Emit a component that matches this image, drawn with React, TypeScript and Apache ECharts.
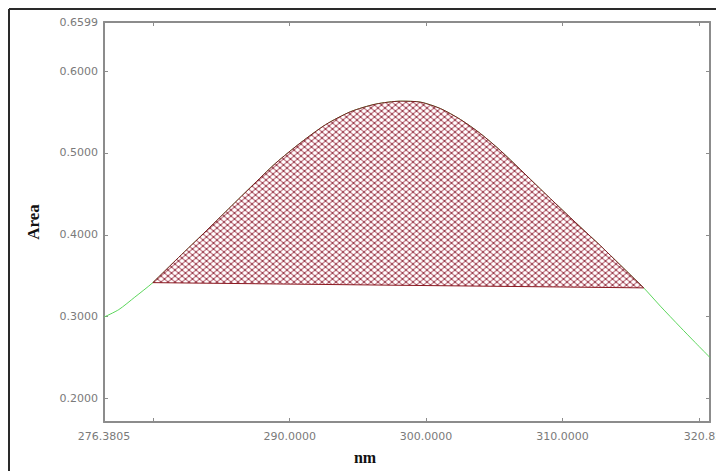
import React, { useEffect, useRef } from "react";
import * as echarts from "echarts";

// Spectrum curve (nm, Area)
const curveX = [276.3805, 277.47, 278.64, 279.96, 281.65, 283.48, 285.31, 287.14, 288.97, 290.81, 292.64, 294.47, 296.3, 298.13, 299.6, 301.06, 302.53, 303.99, 305.46, 306.92, 308.39, 309.85, 311.32, 312.78, 314.25, 315.96, 317.18, 318.64, 319.74, 320.8205];
const curveY = [0.2995, 0.3087, 0.3239, 0.3416, 0.3691, 0.3984, 0.4283, 0.4582, 0.4875, 0.5126, 0.5346, 0.5504, 0.5596, 0.5632, 0.562, 0.5541, 0.5407, 0.5236, 0.5028, 0.4796, 0.4558, 0.4326, 0.4094, 0.3868, 0.363, 0.3352, 0.3129, 0.2873, 0.2684, 0.2501];

// Integration baseline (start / end of the hatched peak)
const baselineX = [279.96, 315.96];
const baselineY = [0.3416, 0.3352];

// Axes
const xMin = 276.3805;
const xMax = 320.8205;
const yMin = 0.1714;
const yMax = 0.6599;
const xTicks = [280, 290, 300, 310, 320];
const xLabels = [276.3805, 290, 300, 310, 320.8205];
const yTicks = [0.2, 0.3, 0.4, 0.5, 0.6];
const yLabels = [0.2, 0.3, 0.4, 0.5, 0.6, 0.6599];

function makePattern() {
  const w = 7;
  const h = 6;
  const c = document.createElement("canvas");
  c.width = w;
  c.height = h;
  const ctx = c.getContext("2d")!;
  ctx.fillStyle = "#ffffff";
  ctx.fillRect(0, 0, w, h);
  ctx.strokeStyle = "#cf8f9a";
  ctx.lineWidth = 1.4;
  ctx.beginPath();
  ctx.moveTo(0, 0);
  ctx.lineTo(w, h);
  ctx.moveTo(0, h);
  ctx.lineTo(w, 0);
  ctx.stroke();
  ctx.fillStyle = "#8a3242";
  ctx.fillRect(w / 2 - 0.8, h / 2 - 0.8, 1.6, 1.6);
  ctx.fillRect(0, 0, 0.8, 0.8);
  ctx.fillRect(w - 0.8, 0, 0.8, 0.8);
  ctx.fillRect(0, h - 0.8, 0.8, 0.8);
  ctx.fillRect(w - 0.8, h - 0.8, 0.8, 0.8);
  return { image: c, repeat: "repeat", imageWidth: w, imageHeight: h } as any;
}

export default function App() {
  const ref = useRef<HTMLDivElement>(null);

  useEffect(() => {
    if (!ref.current) return;
    const chart = echarts.init(ref.current, null, { renderer: "svg" });
    const pattern = makePattern();

    const curve = curveX.map((x, i) => [x, curveY[i]]);
    const hatch = curve.filter((p) => p[0] >= baselineX[0] && p[0] <= baselineX[1]);

    const labelStyle = {
      color: "#7a7a7a",
      fontFamily: "DejaVu Sans",
      fontSize: 11,
    };
    const axisLine = { show: true, lineStyle: { color: "#8c8c8c", width: 2 } };
    const tickStyle = { color: "#8c8c8c", width: 1 };

    chart.setOption({
      animation: false,
      backgroundColor: "#ffffff",
      grid: { left: 104, top: 22, right: 6, bottom: 49, containLabel: false, outerBoundsMode: "none" },
      graphic: [
        { type: "line", shape: { x1: 9, y1: 9, x2: 9, y2: 471 }, style: { stroke: "#2a2a2a", lineWidth: 2 } },
        { type: "line", shape: { x1: 9, y1: 9, x2: 716, y2: 9 }, style: { stroke: "#2a2a2a", lineWidth: 2 } },
      ],
      xAxis: [
        {
          type: "value",
          min: xMin,
          max: xMax,
          position: "bottom",
          name: "nm",
          nameLocation: "middle",
          nameGap: 27,
          nameTextStyle: {
            fontFamily: "Liberation Serif",
            fontWeight: "bold",
            fontSize: 16,
            color: "#111",
            padding: [0, 84, 0, 0],
          },
          axisLine,
          axisTick: { show: true, inside: true, length: 4, customValues: xTicks, lineStyle: tickStyle },
          axisLabel: {
            ...labelStyle,
            margin: 9,
            customValues: xLabels,
            hideOverlap: false,
            formatter: (v: number) => v.toFixed(4),
          },
          splitLine: { show: false },
        },
        {
          type: "value",
          min: xMin,
          max: xMax,
          position: "top",
          axisLine,
          axisTick: { show: true, inside: true, length: 4, customValues: xTicks, lineStyle: tickStyle },
          axisLabel: { show: false },
          splitLine: { show: false },
        },
      ],
      yAxis: [
        {
          type: "value",
          min: yMin,
          max: yMax,
          position: "left",
          name: "Area",
          nameLocation: "middle",
          nameRotate: 90,
          nameGap: 62,
          nameTextStyle: {
            fontFamily: "Liberation Serif",
            fontWeight: "bold",
            fontSize: 17,
            color: "#111",
          },
          axisLine,
          axisTick: { show: true, inside: true, length: 4, customValues: yTicks, lineStyle: tickStyle },
          axisLabel: {
            ...labelStyle,
            margin: 6,
            customValues: yLabels,
            formatter: (v: number) => v.toFixed(4),
          },
          splitLine: { show: false },
        },
        {
          type: "value",
          min: yMin,
          max: yMax,
          position: "right",
          axisLine,
          axisTick: { show: true, inside: true, length: 4, customValues: yTicks, lineStyle: tickStyle },
          axisLabel: { show: false },
          splitLine: { show: false },
        },
      ],
      series: [
        {
          type: "line",
          data: curve,
          smooth: 0.25,
          symbol: "none",
          lineStyle: { color: "#5cd65c", width: 1 },
          z: 2,
        },
        {
          type: "custom",
          data: [[baselineX[0], baselineY[0]]],
          clip: true,
          z: 3,
          renderItem: (_params: any, api: any) => {
            const pts = hatch.map((p) => api.coord(p));
            pts.push(api.coord([baselineX[1], baselineY[1]]));
            pts.push(api.coord([baselineX[0], baselineY[0]]));
            return {
              type: "polygon",
              shape: { points: pts },
              style: { fill: pattern, stroke: "none" },
            };
          },
        },
        {
          type: "line",
          data: hatch,
          smooth: 0.25,
          symbol: "none",
          lineStyle: { color: "#7a1a22", width: 1 },
          z: 4,
        },
        {
          type: "line",
          data: baselineX.map((x, i) => [x, baselineY[i]]),
          symbol: "none",
          lineStyle: { color: "#8b1a22", width: 1 },
          z: 4,
        },
      ],
    });

    return () => chart.dispose();
  }, []);

  return (
    <div
      ref={ref}
      style={{ position: "fixed", left: 0, top: 0, width: 716, height: 471, background: "#fff" }}
    />
  );
}
